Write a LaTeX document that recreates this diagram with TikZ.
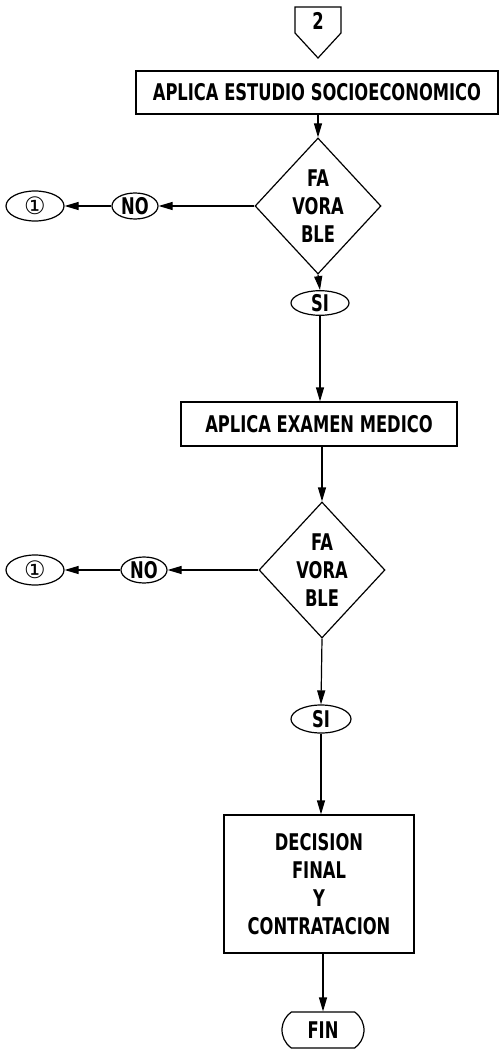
\documentclass[tikz,border=0pt]{standalone}
\usepackage{fontspec}
\setmainfont{DejaVu Sans}[FakeStretch=0.71]
\newfontfamily\circfont{DejaVu Sans}
\usetikzlibrary{shapes.geometric,shapes.misc,arrows.meta}

\begin{document}
\begin{tikzpicture}[x=1pt,y=-1pt,
                every node/.style={align=center,font=\fontsize{23}{28}\selectfont\bfseries,inner sep=0pt},
                proc/.style={draw,rectangle,line width=1.2pt},
                decision/.style={draw,diamond,aspect=0.95,line width=1.2pt,minimum width=126pt,minimum height=136pt},
                answer/.style={draw,ellipse,line width=1.2pt},
                terminal/.style={draw,rounded rectangle,rounded rectangle arc length=110,line width=1.2pt,minimum width=82pt,minimum height=36pt},
                edge/.style={line width=1.2pt,-{Triangle[length=14pt,width=8pt]}}
            ]
            \useasboundingbox (0,0) rectangle (499,1056);

            % Nodes
            \node (off2) at (318,21) {2};
            \draw[line width=1.2pt] (295,7) -- (341,7) -- (341,33) -- (318,58) -- (295,33) -- cycle;
            \node[proc,minimum width=362pt,minimum height=43pt] (estudio) at (317,92.5) {APLICA ESTUDIO SOCIOECONOMICO};
            \node[decision] (dia1) at (318,206) {FA\\VORA\\BLE};
            \node[answer,minimum width=46pt,minimum height=26pt] (no1) at (135,206) {NO};
            \node[answer,minimum width=58pt,minimum height=30pt] (uno1) at (35,206) {\circfont\mdseries\fontsize{24}{24}\selectfont ①};
            \node[answer,minimum width=58pt,minimum height=24pt] (si1) at (320,303) {SI};
            \node[proc,minimum width=276pt,minimum height=44pt] (examen) at (319,424) {APLICA EXAMEN MEDICO};
            \node[decision] (dia2) at (322,570) {FA\\VORA\\BLE};
            \node[answer,minimum width=46pt,minimum height=26pt] (no2) at (144,570) {NO};
            \node[answer,minimum width=58pt,minimum height=30pt] (uno2) at (35,570) {\circfont\mdseries\fontsize{24}{24}\selectfont ①};
            \node[answer,minimum width=60pt,minimum height=28pt] (si2) at (321,719) {SI};
            \node[proc,minimum width=190pt,minimum height=138pt] (decision) at (319,884) {DECISION\\FINAL\\Y\\CONTRATACION};
            \node[terminal] (fin) at (323,1030) {FIN};

            % Edges
            \draw[edge] (estudio.south -| dia1.north) -- (dia1.north);
            \draw[edge] (dia1.west) -- (no1.east);
            \draw[edge] (no1.west) -- (uno1.east);
            \draw[edge] (dia1.south) -- (si1.north);
            \draw[edge] (si1.south) -- (si1.south |- examen.north);
            \draw[edge] (dia2.north |- examen.south) -- (dia2.north);
            \draw[edge] (dia2.west) -- (no2.east);
            \draw[edge] (no2.west) -- (uno2.east);
            \draw[edge] (dia2.south) -- (si2.north);
            \draw[edge] (si2.south) -- (si2.south |- decision.north);
            \draw[edge] (decision.south -| fin.north) -- (fin.north);

            \end{tikzpicture}
\end{document}
